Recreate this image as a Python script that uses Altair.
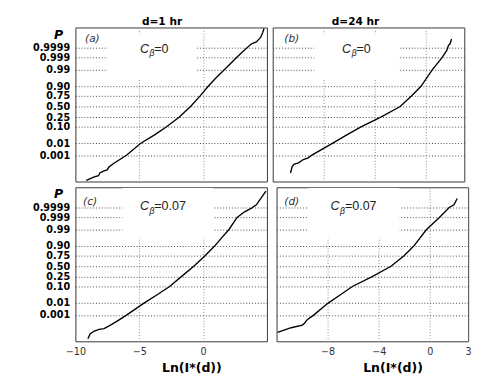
import altair as alt
import pandas as pd

# Probability-axis tick labels and their positions on the probit (normal-quantile) axis
P_LABELS = ["0.001", "0.01", "0.10", "0.25", "0.50", "0.75", "0.90", "0.99", "0.999", "0.9999"]
P_Z = [-3.0902, -2.3263, -1.2816, -0.6745, 0.0, 0.6745, 1.2816, 2.3263, 3.0902, 3.7190]

# Curves: x = Ln(I*(d)), z = probit position of P
xa = [-9.15, -8.52, -8.19, -8.09, -7.76, -7.51, -7.39, -7.01, -6.0, -4.88, -3.8, -2.86, -1.86,
      -0.98, -0.23, 0.4, 1.0, 1.66, 2.6, 3.2, 3.79, 4.17, 4.5, 4.67, 4.77]
za = [-4.68, -4.46, -4.38, -4.21, -4.07, -4.01, -3.85, -3.61, -3.09, -2.33, -1.8, -1.28, -0.67,
      0.0, 0.67, 1.28, 1.8, 2.33, 3.09, 3.55, 3.97, 4.09, 4.37, 4.68, 4.94]

xb = [-10.61, -10.48, -10.31, -9.98, -9.6, -9.22, -8.97, -7.33, -6.2, -5.05, -3.54, -2.02,
      -1.14, -0.39, 0.5, 1.26, 1.64, 1.76, 1.89, 2.0]
zb = [-4.21, -3.81, -3.64, -3.57, -3.36, -3.25, -3.09, -2.33, -1.8, -1.28, -0.67, 0.0,
      0.67, 1.28, 2.33, 3.09, 3.57, 3.87, 3.97, 4.27]

xc = [-9.02, -8.85, -8.52, -8.14, -7.76, -7.39, -6.76, -6.0, -4.63, -3.6, -2.62, -1.73, -0.73,
      0.15, 0.9, 1.45, 2.03, 2.66, 3.25, 3.79, 4.17, 4.77, 4.92]
zc = [-4.59, -4.29, -4.1, -3.99, -3.95, -3.79, -3.49, -3.09, -2.33, -1.8, -1.28, -0.67, 0.0,
      0.67, 1.28, 1.8, 2.33, 3.09, 3.45, 3.68, 3.89, 4.59, 4.76]

xd = [-11.92, -10.86, -9.98, -9.8, -9.6, -9.1, -7.96, -7.0, -6.07, -4.55, -3.04, -2.02, -1.26,
      -0.26, 0.75, 1.51, 1.89, 2.14]
zd = [-4.19, -3.89, -3.72, -3.59, -3.38, -3.09, -2.33, -1.8, -1.28, -0.67, 0.0, 0.67, 1.28,
      2.33, 3.09, 3.72, 3.89, 4.29]

COL_TITLES = ["d=1 hr", "d=24 hr"]
TAGS = ["(a)", "(b)", "(c)", "(d)"]
CB_VALUES = ["=0", "=0", "=0.07", "=0.07"]
X_TITLE = "Ln(I*(d))"
Y_TITLE = "P"

W, H = 199, 160
Y_DOMAIN = [-4.75, 5.0]

label_expr = "".join(
    f"abs(datum.value - ({z})) < 0.01 ? '{l}' : " for z, l in zip(P_Z, P_LABELS)
) + "''"


def txt(s, x, y, **kw):
    return alt.Chart(pd.DataFrame({"t": [s]})).mark_text(**kw).encode(
        text="t:N", x=alt.value(x), y=alt.value(y))


def panel(xs, zs, xdom, xticks, box, tag, cval, pos, left, bottom, title=None):
    df = pd.DataFrame({"x": xs, "z": zs, "i": list(range(len(xs)))})
    xscale = alt.Scale(domain=xdom, nice=False, zero=False)
    yscale = alt.Scale(domain=Y_DOMAIN, nice=False, zero=False)
    xaxis_kw = dict(values=xticks, grid=True, gridDash=[1, 2], gridColor="#888",
                    gridWidth=1, ticks=False, domain=False, labels=bottom,
                    labelFlush=False)
    if bottom:
        xaxis_kw.update(title=X_TITLE, labelFont="DejaVu Sans", labelFontSize=10,
                        labelColor="#333", labelPadding=6, titleFont="DejaVu Sans",
                        titleFontWeight="bold", titleFontSize=13, titleColor="black",
                        titleX=W / 2 + 21, titleY=27, titleBaseline="middle")
    else:
        xaxis_kw.update(title=None)
    yaxis_kw = dict(values=P_Z, grid=True, gridDash=[1, 2], gridColor="#444", gridWidth=1,
                    ticks=False, domain=False, labels=left, labelOverlap=False)
    if left:
        yaxis_kw.update(labelExpr=label_expr, labelFont="DejaVu Sans",
                        labelFontWeight="bold", labelFontSize=10, labelColor="black",
                        labelPadding=6, title=Y_TITLE, titleAngle=0, titleX=-18,
                        titleY=7, titleFont="DejaVu Sans", titleFontStyle="italic",
                        titleFontWeight="bold", titleFontSize=13, titleAlign="center",
                        titleBaseline="middle", titleColor="black")
    else:
        yaxis_kw.update(title=None)
    xaxis = alt.Axis(**xaxis_kw)
    yaxis = alt.Axis(**yaxis_kw)

    base = alt.Chart(df)
    rect = base.mark_rect(fill="white").encode(
        x=alt.X(datum=box[0], scale=xscale, axis=xaxis),
        x2=alt.X2(datum=box[1]),
        y=alt.Y(datum=box[2], scale=yscale, axis=yaxis),
        y2=alt.Y2(datum=box[3]),
    ).transform_filter("datum.i == 0")
    line = base.mark_line(color="black", strokeWidth=1.4).encode(
        x=alt.X("x:Q", scale=xscale, axis=xaxis),
        y=alt.Y("z:Q", scale=yscale, axis=yaxis),
        order="i:Q",
    )
    tx, ty, cx, cy, bx, by, ex = pos
    layers = [
        rect, line,
        txt(tag, tx, ty, font="DejaVu Sans", fontStyle="italic", fontSize=11,
            color="#333", align="left", baseline="middle"),
        txt("C", cx, cy, font="Liberation Sans", fontStyle="italic", fontSize=13,
            color="#222", align="left", baseline="middle"),
        txt("β", bx, by, font="Liberation Sans", fontStyle="italic", fontSize=9,
            color="#222", align="left", baseline="middle"),
        txt(cval, ex, cy, font="Liberation Sans", fontSize=13, color="#222",
            align="left", baseline="middle"),
    ]
    if title is not None:
        layers.append(txt(title[0], title[1], -6, font="DejaVu Sans", fontSize=11,
                          fontWeight="bold", color="black", align="center",
                          baseline="middle"))
    return alt.layer(*layers).properties(width=W, height=H)


pa = panel(xa, za, [-10, 5], [-10, -5, 0], [-7.5, -0.58, 1.73, 4.58], TAGS[0], CB_VALUES[0],
           (10, 12, 67, 22, 77, 27, 82), True, False, (COL_TITLES[0], 90))
pb = panel(xb, zb, [-12, 3], [-8, -4, 0, 3], [-8.74, -2.15, 1.73, 4.58], TAGS[1], CB_VALUES[1],
           (12, 12, 72, 22, 82, 27, 87), False, False, (COL_TITLES[1], 86))
pc = panel(xc, zc, [-10, 5], [-10, -5, 0], [-6.31, 0.8, 1.8, 4.95], TAGS[2], CB_VALUES[2],
           (8, 15, 67, 20, 77, 25, 82), True, True)
pd_ = panel(xd, zd, [-12, 3], [-8, -4, 0, 3], [-9.5, -2.38, 1.8, 4.95], TAGS[3], CB_VALUES[3],
            (8, 15, 56, 20, 66, 25, 71), False, True)

chart = alt.vconcat(
    alt.hconcat(pa, pb, spacing=4),
    alt.hconcat(pc, pd_, spacing=4),
    spacing=2,
).properties(
    padding={"left": 24, "top": 0, "right": 0, "bottom": 0},
    background="white",
).configure_view(stroke="#333", strokeWidth=1)

chart.save("out.html", embed_options={"renderer": "svg", "actions": False})
